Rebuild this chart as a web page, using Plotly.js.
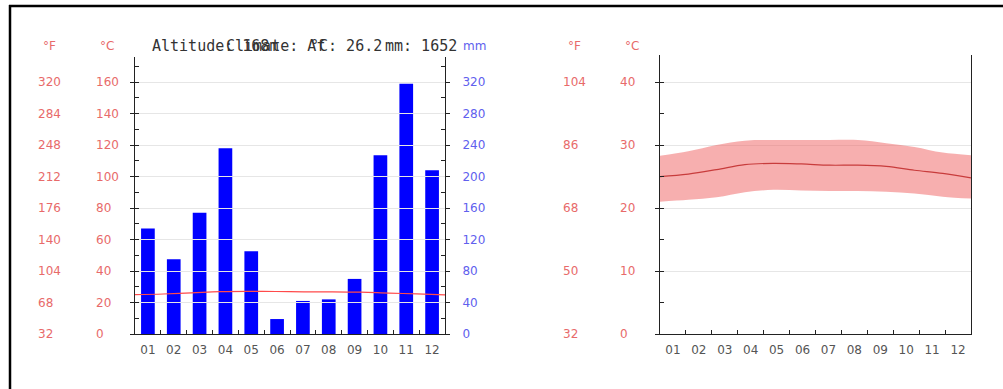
<!DOCTYPE html>
<html>
<head>
<meta charset="utf-8">
<script src="https://cdn.plot.ly/plotly-3.0.1.min.js"></script>
<style>html,body{margin:0;padding:0;background:#fff;}#chart{width:1003px;height:389px;}</style>
</head>
<body>
<div id="chart"></div>
<script>
// ---- data ----
const months = ['01','02','03','04','05','06','07','08','09','10','11','12'];
const monthNumbers = [1,2,3,4,5,6,7,8,9,10,11,12];
const precipitationMm = [134, 95, 154, 236, 105, 19, 42, 44, 70, 227, 318, 208];
const tempMeanC = [25.0, 25.4, 26.1, 26.9, 27.1, 27.0, 26.8, 26.8, 26.6, 26.0, 25.5, 24.8];
const tempMaxC = [28.3, 29.0, 30.0, 30.7, 30.8, 30.8, 30.8, 30.8, 30.3, 29.7, 28.8, 28.4];
const tempMinC = [21.0, 21.3, 21.7, 22.5, 22.9, 22.8, 22.7, 22.7, 22.6, 22.3, 21.8, 21.5];
const leftCelsiusTicks = [0, 20, 40, 60, 80, 100, 120, 140, 160];
const leftFahrenheitTicks = ['32','68','104','140','176','212','248','284','320'];
const mmTicks = [0, 40, 80, 120, 160, 200, 240, 280, 320];
const rightCelsiusTicks = [0, 10, 20, 30, 40];
const rightFahrenheitTicks = ['32','50','68','86','104'];
const headerTexts = ['Altitude: 168m', 'Climate: Af', '°C: 26.2', 'mm: 1652'];

// ---- layout helpers (pixel -> paper) ----
const W = 1003, H = 389;
const px = x => x / W;
const py = y => 1 - y / H;
const yDom = [py(334), py(57)];
const yDomR = [py(334), py(55)];
const tickFont = {family: 'DejaVu Sans', size: 12, color: '#555'};
const redFont = {family: 'DejaVu Sans', size: 12, color: '#e86a6a'};
const blueFont = {family: 'DejaVu Sans', size: 12, color: '#6060ee'};
const headFont = {family: 'DejaVu Sans Mono', size: 15, color: '#333'};

const ghost = (xa, ya, xs, ys) => ({x: xs, y: ys, xaxis: xa, yaxis: ya, type: 'scatter', mode: 'lines',
  line: {width: 0}, opacity: 0, hoverinfo: 'skip', showlegend: false});

const traces = [
  {x: months, y: precipitationMm, type: 'bar', xaxis: 'x', yaxis: 'y2',
   marker: {color: '#0000ff', line: {width: 0}}, hoverinfo: 'skip', showlegend: false},
  {x: monthNumbers, y: tempMeanC, type: 'scatter', mode: 'lines', xaxis: 'x2', yaxis: 'y',
   line: {color: '#ff4a4a', width: 1.2, shape: 'spline'}, hoverinfo: 'skip', showlegend: false},
  ghost('x', 'y3', months, tempMeanC),
  ghost('x', 'y4', months, tempMeanC),
  // right chart
  ghost('x3', 'y5', months, tempMeanC),
  {x: monthNumbers, y: tempMaxC, type: 'scatter', mode: 'lines', xaxis: 'x4', yaxis: 'y5',
   line: {width: 0, shape: 'spline'}, hoverinfo: 'skip', showlegend: false},
  {x: monthNumbers, y: tempMinC, type: 'scatter', mode: 'lines', xaxis: 'x4', yaxis: 'y5',
   fill: 'tonexty', fillcolor: 'rgba(240,95,95,0.5)',
   line: {width: 0, shape: 'spline'}, hoverinfo: 'skip', showlegend: false},
  {x: monthNumbers, y: tempMeanC, type: 'scatter', mode: 'lines', xaxis: 'x4', yaxis: 'y5',
   line: {color: '#c83c3c', width: 1.2, shape: 'spline'}, hoverinfo: 'skip', showlegend: false},
  ghost('x3', 'y6', months, tempMeanC),
  ghost('x3', 'y7', months, tempMeanC)
];

const baseY = {showline: true, linecolor: '#222', linewidth: 1, zeroline: false, fixedrange: true};
const labelAxis = (pos, range, tickvals, ticktext, font, overl) => ({
  overlaying: overl, anchor: 'free', position: pos, side: 'right', range: range,
  tickmode: 'array', tickvals: tickvals, ticktext: ticktext, tickfont: font,
  showline: false, showgrid: false, zeroline: false, ticks: '', fixedrange: true
});
const catX = (dom, anchor) => ({domain: dom, anchor: anchor, type: 'category', categoryarray: months,
  range: [-0.5, 11.5], showline: true, linecolor: '#222', ticks: 'inside', ticklen: 4, tickcolor: '#222',
  tickson: 'boundaries', tickfont: tickFont, ticklabelstandoff: 5, showgrid: false, fixedrange: true});

const leftRange = [0, 176];
const rightRange = [0, 44.3];

const layout = {
  width: W, height: H,
  margin: {l: 0, r: 0, t: 0, b: 0},
  paper_bgcolor: '#fff', plot_bgcolor: 'rgba(0,0,0,0)',
  bargap: 0.47,
  showlegend: false,
  xaxis: catX([px(135), px(445)], 'y'),
  xaxis2: {overlaying: 'x', anchor: 'y', range: [1, 12], visible: false, fixedrange: true},
  yaxis: Object.assign({}, baseY, {domain: yDom, anchor: 'x', range: leftRange,
    tickmode: 'array', tickvals: leftCelsiusTicks, ticks: 'outside', ticklen: 4, tickcolor: '#222',
    minor: {dtick: 10, ticks: 'inside', ticklen: 4, tickcolor: '#222', showgrid: false},
    showticklabels: false, showgrid: true, gridcolor: '#e6e6e6'}),
  yaxis2: Object.assign({}, baseY, {overlaying: 'y', anchor: 'x', side: 'right', range: [0, 352],
    tickmode: 'array', tickvals: mmTicks, ticks: 'outside', ticklen: 4, tickcolor: '#222',
    minor: {dtick: 20, ticks: 'inside', ticklen: 4, tickcolor: '#222', showgrid: false},
    tickfont: blueFont, ticklabelstandoff: 10, showgrid: false}),
  yaxis3: labelAxis(px(95), leftRange, leftCelsiusTicks, leftCelsiusTicks.map(String), redFont, 'y'),
  yaxis4: labelAxis(px(37), leftRange, leftCelsiusTicks, leftFahrenheitTicks, redFont, 'y'),
  // right chart
  xaxis3: catX([px(660), px(971)], 'y5'),
  xaxis4: {overlaying: 'x3', anchor: 'y5', range: [1, 12], visible: false, fixedrange: true},
  yaxis5: Object.assign({}, baseY, {domain: yDomR, anchor: 'x3', range: rightRange, mirror: true,
    tickmode: 'array', tickvals: rightCelsiusTicks, ticks: 'outside', ticklen: 4, tickcolor: '#222',
    minor: {dtick: 5, ticks: 'inside', ticklen: 4, tickcolor: '#222', showgrid: false},
    showticklabels: false, showgrid: true, gridcolor: '#e6e6e6'}),
  yaxis6: labelAxis(px(619), rightRange, rightCelsiusTicks, rightCelsiusTicks.map(String), redFont, 'y5'),
  yaxis7: labelAxis(px(562), rightRange, rightCelsiusTicks, rightFahrenheitTicks, redFont, 'y5'),
  annotations: [
    {text: '°F', x: px(41), y: py(46), font: redFont},
    {text: '°C', x: px(98), y: py(46), font: redFont},
    {text: 'mm', x: px(461), y: py(46), font: blueFont},
    {text: '°F', x: px(566), y: py(46), font: redFont},
    {text: '°C', x: px(623), y: py(46), font: redFont},
    {text: headerTexts[0], x: px(150), y: py(46), font: headFont},
    {text: headerTexts[1], x: px(224), y: py(46), font: headFont},
    {text: headerTexts[2], x: px(308), y: py(46), font: headFont},
    {text: headerTexts[3], x: px(383), y: py(46), font: headFont}
  ].map(a => Object.assign({xref: 'paper', yref: 'paper', xanchor: 'left', yanchor: 'middle', showarrow: false}, a)),
  shapes: [
    {type: 'line', xref: 'paper', yref: 'paper', x0: px(9), x1: 1, y0: py(6), y1: py(6), line: {color: '#000', width: 2.5}},
    {type: 'line', xref: 'paper', yref: 'paper', x0: px(10), x1: px(10), y0: py(5), y1: 0, line: {color: '#000', width: 2.5}}
  ]
};

Plotly.newPlot('chart', traces, layout, {staticPlot: true, displayModeBar: false});
</script>
</body>
</html>
